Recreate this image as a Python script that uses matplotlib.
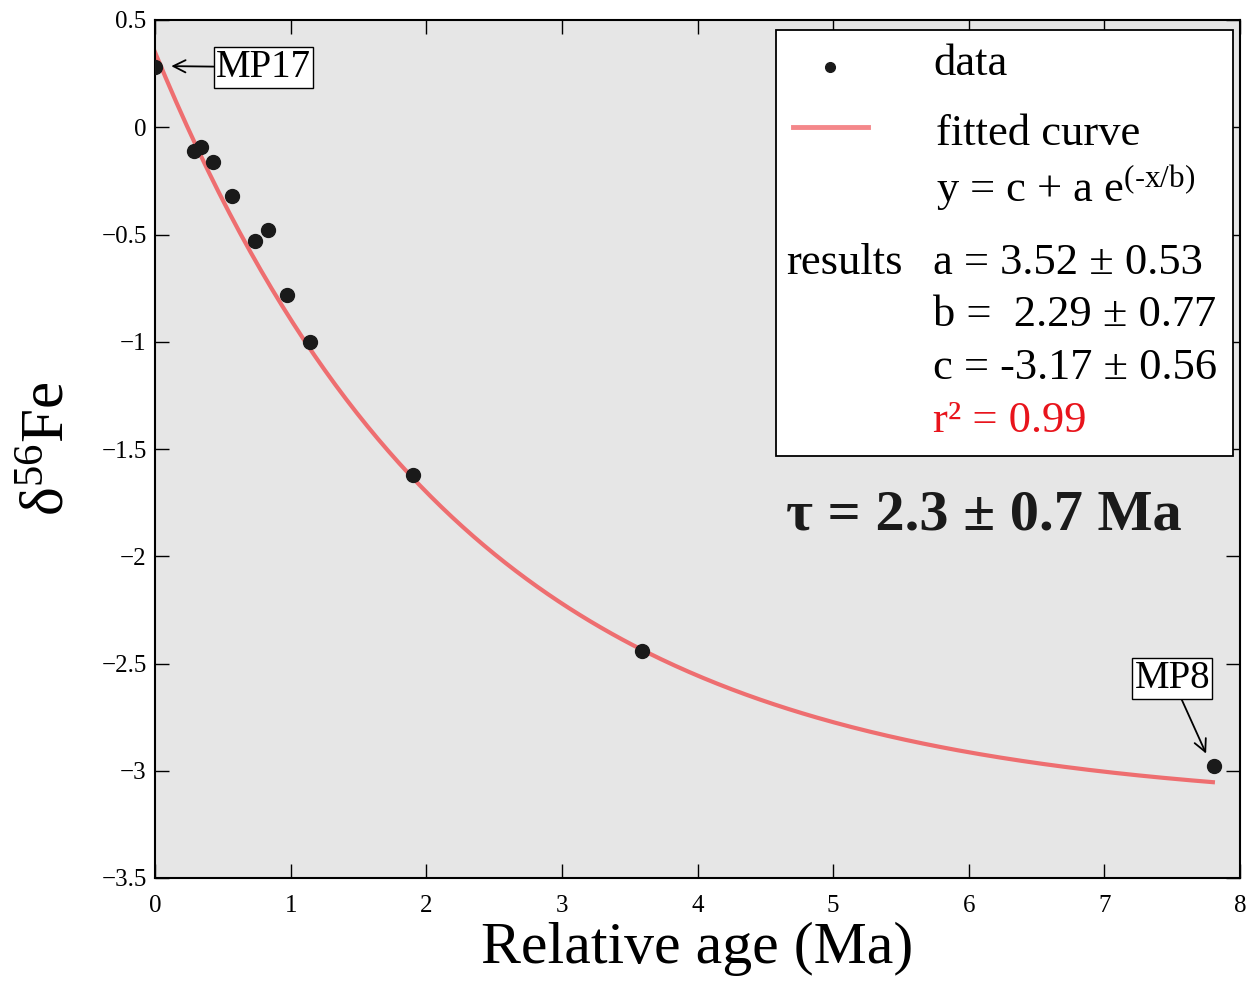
import numpy as np
import matplotlib
matplotlib.use("Agg")
import matplotlib.pyplot as plt
from matplotlib.ticker import FuncFormatter
from matplotlib.patches import Rectangle
from matplotlib.lines import Line2D

plt.rcParams['font.family'] = ['Liberation Serif', 'DejaVu Serif']
plt.rcParams['mathtext.default'] = 'regular'

# data
age = [0.0, 0.29, 0.34, 0.43, 0.57, 0.74, 0.83, 0.97, 1.14, 1.90, 3.59, 7.81]
d56fe = [0.28, -0.11, -0.09, -0.16, -0.32, -0.53, -0.48, -0.78, -1.00, -1.62, -2.44, -2.98]

# fit results shown in the legend
fit_a, fit_a_err = 3.52, 0.53
fit_b, fit_b_err = 2.29, 0.77
fit_c, fit_c_err = -3.17, 0.56
r2 = 0.99
tau, tau_err = 2.3, 0.7

xticks = [0, 1, 2, 3, 4, 5, 6, 7, 8]
yticks = [-3.5, -3, -2.5, -2, -1.5, -1, -0.5, 0, 0.5]

W, H = 1252, 983
fig = plt.figure(figsize=(W / 100, H / 100), dpi=100)
ax = fig.add_axes([155 / W, 1 - 878 / H, 1085 / W, 858 / H])
ax.set_facecolor('#e6e6e6')

xf = np.linspace(0, 7.8, 300)
yf = fit_c + fit_a * np.exp(-xf / fit_b)
ax.plot(xf, yf, color='#ee6e70', lw=3, zorder=2)
ax.plot(age, d56fe, 'o', color='#1a1a1a', ms=10, zorder=3)

ax.set_xlim(0, 8)
ax.set_ylim(-3.5, 0.5)
ax.set_xticks(xticks)
ax.set_yticks(yticks)
fmt = FuncFormatter(lambda v, p: ('%g' % v).replace('-', '\u2212'))
ax.xaxis.set_major_formatter(fmt)
ax.yaxis.set_major_formatter(fmt)
ax.tick_params(direction='in', length=10, width=1, top=True, right=True,
               labelsize=18, pad=6)
ax.tick_params(axis='x', pad=12)
for s in ax.spines.values():
    s.set_linewidth(1.5)

ax.set_xlabel('Relative age (Ma)', fontsize=43, labelpad=4)
ax.set_ylabel('δ$^{56}$Fe', fontsize=44, labelpad=18)

# annotations
ax.annotate('MP17', xy=(0.12, 0.285), xytext=(0.45, 0.28),
            fontsize=28, va='center', ha='left',
            bbox=dict(boxstyle='square,pad=0.05', fc='white', ec='black', lw=1),
            arrowprops=dict(arrowstyle='->', color='black', lw=1.3,
                            mutation_scale=22, shrinkA=0, shrinkB=0))
ax.annotate('MP8', xy=(7.75, -2.92), xytext=(7.5, -2.57),
            fontsize=28, va='center', ha='center',
            bbox=dict(boxstyle='square,pad=0.05', fc='white', ec='black', lw=1),
            arrowprops=dict(arrowstyle='->', color='black', lw=1.3,
                            mutation_scale=22, shrinkA=0, shrinkB=0))

# legend box drawn by hand
def fx(px):
    return px / W

def fy(py):
    return 1 - py / H

fig.patches.append(Rectangle((fx(776), fy(456)), fx(1233) - fx(776), fy(30) - fy(456),
                             transform=fig.transFigure, fc='white', ec='black',
                             lw=1.3, zorder=5))
fig.lines.append(Line2D([fx(830)], [fy(67)], marker='o', ms=7, color='#1a1a1a',
                        transform=fig.transFigure, zorder=6))
fig.lines.append(Line2D([fx(793), fx(868)], [fy(127), fy(127)], color='#f4878a', lw=3.5,
                        transform=fig.transFigure, zorder=6))
ls = 32
fig.text(fx(933), fy(64), 'data', fontsize=ls, va='center', zorder=7)
fig.text(fx(936), fy(134), 'fitted curve', fontsize=ls, va='center', zorder=7)
fig.text(fx(936), fy(188), 'y = c + a e$^{(\u2011x/b)}$', fontsize=ls, va='center', zorder=7)
fig.text(fx(786), fy(263), 'results', fontsize=ls, va='center', zorder=7)
fig.text(fx(933), fy(263), 'a = %.2f ± %.2f' % (fit_a, fit_a_err), fontsize=ls, va='center', zorder=7)
fig.text(fx(933), fy(315), 'b =  %.2f ± %.2f' % (fit_b, fit_b_err), fontsize=ls, va='center', zorder=7)
fig.text(fx(933), fy(368), 'c = %.2f ± %.2f' % (fit_c, fit_c_err), fontsize=ls, va='center', zorder=7)
fig.text(fx(933), fy(421), 'r² = %.2f' % r2, fontsize=ls, va='center', color='#e8141c', zorder=7)

fig.text(fx(786), fy(515), 'τ = %.1f ± %.1f Ma' % (tau, tau_err), fontsize=42,
         fontweight='bold', va='center', color='#1a1a1a')

fig.savefig('out.png', dpi=100)
